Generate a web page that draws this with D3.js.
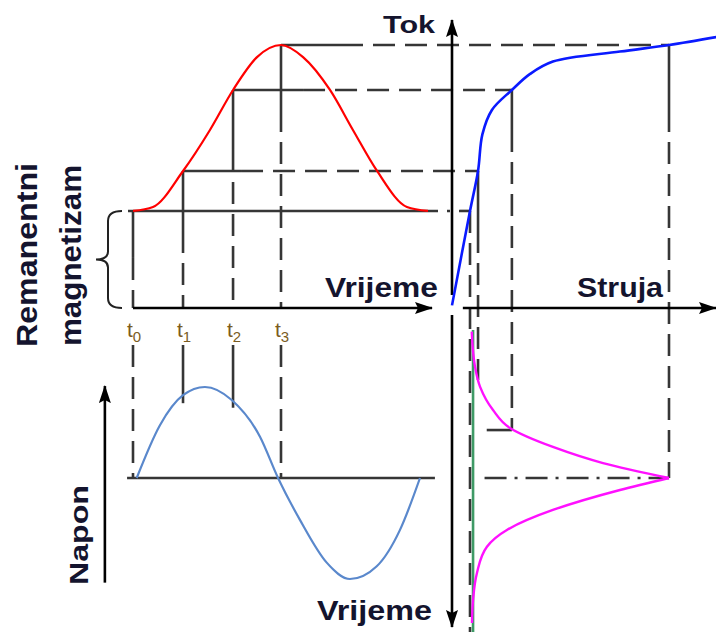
<!DOCTYPE html>
<html>
  <head>
    <meta charset="utf-8">
    <title>Magnetizacija transformatora</title>
    <script src="https://d3js.org/d3.v7.min.js"></script>
    <style>
      body { margin: 0; background: #fff; }
      .lbl { font-family: "Liberation Sans", Arial, sans-serif; font-weight: bold; fill: #14142e; }
      .tick { font-family: "Liberation Sans", Arial, sans-serif; fill: #7a5c22; }
    </style>
  </head>
  <body>
    <script>

      var width = 716;
      var height = 632;

      // time is in half-periods, flux and current scaled to their peaks
      var tickNames = ["0", "1", "2", "3"];
      var tickTimes = [0, 0.338, 0.676, 1.0];
      var tickFlux = [0.369, 0.521, 0.829, 1.0];
      var tickCurrent = [0.083, 0.12, 0.276, 1.0];
      var tickVoltage = [0, 0.91, 0.86, 0];

      // flux vs time (red)
      var fluxCurve = [
        [0, 0.369], [0.135, 0.384], [0.338, 0.521], [0.52, 0.677], [0.676, 0.829],
        [0.838, 0.954], [1.0, 1.0], [1.149, 0.954], [1.331, 0.829], [1.486, 0.677],
        [1.649, 0.521], [1.851, 0.384], [1.993, 0.369]
      ];
      // magnetising curve, current vs flux (blue)
      var magnetCurve = [
        [0, 0.01], [0.083, 0.369], [0.12, 0.521], [0.14, 0.66], [0.184, 0.753],
        [0.276, 0.829], [0.36, 0.89], [0.465, 0.937], [0.774, 0.975], [1.0, 1.0], [1.217, 1.03]
      ];
      // supply voltage vs time (light blue)
      var voltageCurve = [
        [0.025, 0], [0.182, 0.58], [0.338, 0.91], [0.486, 1.0], [0.667, 0.857],
        [0.858, 0.454], [0.98, 0], [1.128, -0.46], [1.309, -0.93], [1.466, -1.11],
        [1.647, -0.97], [1.804, -0.57], [1.939, 0]
      ];
      // magnetising current vs time (magenta), rising and falling halves
      var currentRise = [
        [0.011, 0.091], [0.248, 0.106], [0.383, 0.129], [0.541, 0.189], [0.662, 0.267],
        [0.79, 0.465], [0.899, 0.696], [1.0, 1.0]
      ];
      var currentFall = [
        [1.0, 1.0], [1.081, 0.774], [1.216, 0.465], [1.351, 0.253], [1.464, 0.161],
        [1.642, 0.115], [1.824, 0.097], [1.98, 0.092]
      ];

      var svg = d3.select("body").append("svg")
        .attr("width", width)
        .attr("height", height);

      var xT = d3.scaleLinear().domain([0, 2]).range([133, 429]);   // time, horizontal
      var yPhi = d3.scaleLinear().domain([0, 1]).range([308, 45]);  // flux
      var xI = d3.scaleLinear().domain([0, 1]).range([452, 669]);   // current
      var yT = d3.scaleLinear().domain([0, 2]).range([330, 626]);   // time, vertical
      var yV = d3.scaleLinear().domain([0, 1]).range([478, 387]);   // voltage

      var guide = "#363636";
      var dash = "22,10";

      svg.append("defs").append("marker")
        .attr("id", "arrow")
        .attr("viewBox", "0 0 18 12")
        .attr("refX", 17).attr("refY", 6)
        .attr("markerWidth", 18).attr("markerHeight", 12)
        .attr("markerUnits", "userSpaceOnUse")
        .attr("orient", "auto")
        .append("path").attr("d", "M0,0 L18,6 L0,12 L3,6 Z").attr("fill", "#000");

      function line(x1, y1, x2, y2, opts) {
        opts = opts || {};
        var l = svg.append("line")
          .attr("x1", x1).attr("y1", y1).attr("x2", x2).attr("y2", y2)
          .attr("stroke", opts.color || guide)
          .attr("stroke-width", opts.w || 2.6);
        if (opts.dash) l.attr("stroke-dasharray", opts.dash);
        if (opts.arrow) l.attr("marker-end", "url(#arrow)");
        return l;
      }

      // solid first part, then dashed
      function hGuide(x1, x2, y, solid) {
        line(x1, y, Math.min(x1 + solid, x2), y);
        if (x1 + solid < x2) line(x1 + solid, y, x2, y, {dash: dash});
      }
      function vGuide(x, y1, y2, solid) {
        line(x, y1, x, Math.min(y1 + solid, y2));
        if (y1 + solid < y2) line(x, y1 + solid, x, y2, {dash: dash});
      }

      // ---- guide lines ----
      // remanent level
      line(xT(0) - 5, yPhi(tickFlux[0]), xT(2) + 6, yPhi(tickFlux[0]));
      line(xT(2) + 6, yPhi(tickFlux[0]), xI(tickCurrent[0]) - 10, yPhi(tickFlux[0]), {dash: "3,9"});
      line(xI(tickCurrent[0]) - 10, yPhi(tickFlux[0]), xI(tickCurrent[0]), yPhi(tickFlux[0]));

      var hSolid = [0, 58, 70, 60];
      var vSolidL = [47, 60, 60, 65];
      var vSolidR = [0, 60, 40, 65];
      tickTimes.forEach(function (t, i) {
        var x = xT(t), y = yPhi(tickFlux[i]), xc = xI(tickCurrent[i]);
        if (i > 0) hGuide(x, xc, y, hSolid[i]);
        // down to the time axis
        vGuide(x, y, yPhi(0), vSolidL[i]);
        // below the labels, to the voltage curve
        if (i === 1 || i === 2) line(x, yPhi(0) + 37, x, yV(tickVoltage[i]) + 8);
        else line(x, yPhi(0) + 37, x, yV(0), {dash: dash});
        // current side, down to the current-time plot
        if (i === 0) line(xc, y, xc, height, {dash: dash});
        else vGuide(xc, y, yT(t), vSolidR[i]);
      });
      line(xI(0.16), yT(tickTimes[2]), xI(tickCurrent[2]), yT(tickTimes[2]));
      line(xI(0.15), yT(1), xI(1), yT(1), {dash: "22,8,3,8"});

      // ---- axes ----
      line(xT(0), yPhi(0), xT(2) + 3, yPhi(0), {color: "#000", arrow: true});
      line(xI(0), yPhi(0) - 13, xI(0), 20, {color: "#000", arrow: true});
      line(xI(0.05), yPhi(0), width, yPhi(0), {color: "#000", arrow: true});
      line(xI(0), yPhi(0) + 7, xI(0), yT(2) + 1, {color: "#000", arrow: true});
      line(xT(-0.04), yV(0), xT(2.04), yV(0));
      line(xT(-0.19), yV(-1.15), xT(-0.19), yV(1.01), {color: "#000", arrow: true});

      // green reference line
      line(xI(0.097), yT(0), xI(0.097), height, {color: "#3f9a66"});

      // ---- curves ----
      svg.append("path").datum(fluxCurve)
        .attr("d", d3.line().x(function (d) { return xT(d[0]); }).y(function (d) { return yPhi(d[1]); }).curve(d3.curveMonotoneX))
        .attr("fill", "none").attr("stroke", "#ff0000").attr("stroke-width", 2.2);

      svg.append("path").datum(magnetCurve)
        .attr("d", d3.line().x(function (d) { return xI(d[0]); }).y(function (d) { return yPhi(d[1]); }).curve(d3.curveCatmullRom.alpha(0.5)))
        .attr("fill", "none").attr("stroke", "#0a1aff").attr("stroke-width", 2.6);

      svg.append("path").datum(voltageCurve)
        .attr("d", d3.line().x(function (d) { return xT(d[0]); }).y(function (d) { return yV(d[1]); }).curve(d3.curveMonotoneX))
        .attr("fill", "none").attr("stroke", "#5a88cc").attr("stroke-width", 2.2);

      [currentRise, currentFall].forEach(function (seg) {
        svg.append("path").datum(seg)
          .attr("d", d3.line().x(function (d) { return xI(d[1]); }).y(function (d) { return yT(d[0]); }).curve(d3.curveMonotoneY))
          .attr("fill", "none").attr("stroke", "#ff10ff").attr("stroke-width", 2.4);
      });

      // brace for remanent flux
      var bTop = yPhi(tickFlux[0]), bBot = yPhi(0), bMid = (bTop + bBot) / 2;
      svg.append("path")
        .attr("d", "M122," + bTop + " Q108," + bTop + " 108," + (bTop + 10) +
          " L108," + (bMid - 8) + " Q108," + bMid + " 96," + bMid +
          " Q108," + bMid + " 108," + (bMid + 8) +
          " L108," + (bBot - 10) + " Q108," + bBot + " 122," + bBot)
        .attr("fill", "none").attr("stroke", "#222").attr("stroke-width", 2);

      // ---- text ----
      function label(txt, x, y, size, len, rot) {
        var t = svg.append("text").attr("class", "lbl")
          .attr("font-size", size)
          .attr("textLength", len).attr("lengthAdjust", "spacingAndGlyphs")
          .text(txt);
        if (rot) t.attr("transform", "translate(" + x + "," + y + ") rotate(-90)");
        else t.attr("x", x).attr("y", y);
      }
      label("Tok", 383, 33, 23, 52);
      label("Vrijeme", 325, 297, 27, 113);
      label("Struja", 577, 297, 27, 86);
      label("Vrijeme", 317, 620, 27, 115);
      label("Remanentni", 37, 347, 30, 184, true);
      label("magnetizam", 81, 346, 30, 181, true);
      label("Napon", 88, 585, 25, 100, true);

      tickTimes.forEach(function (t, i) {
        var tx = svg.append("text").attr("class", "tick")
          .attr("x", xT(t) + 1).attr("y", yPhi(0) + 29)
          .attr("text-anchor", "middle").attr("font-size", 21);
        tx.append("tspan").text("t");
        tx.append("tspan").attr("font-size", 15).attr("dy", 5).text(tickNames[i]);
      });

    </script>
  </body>
</html>
